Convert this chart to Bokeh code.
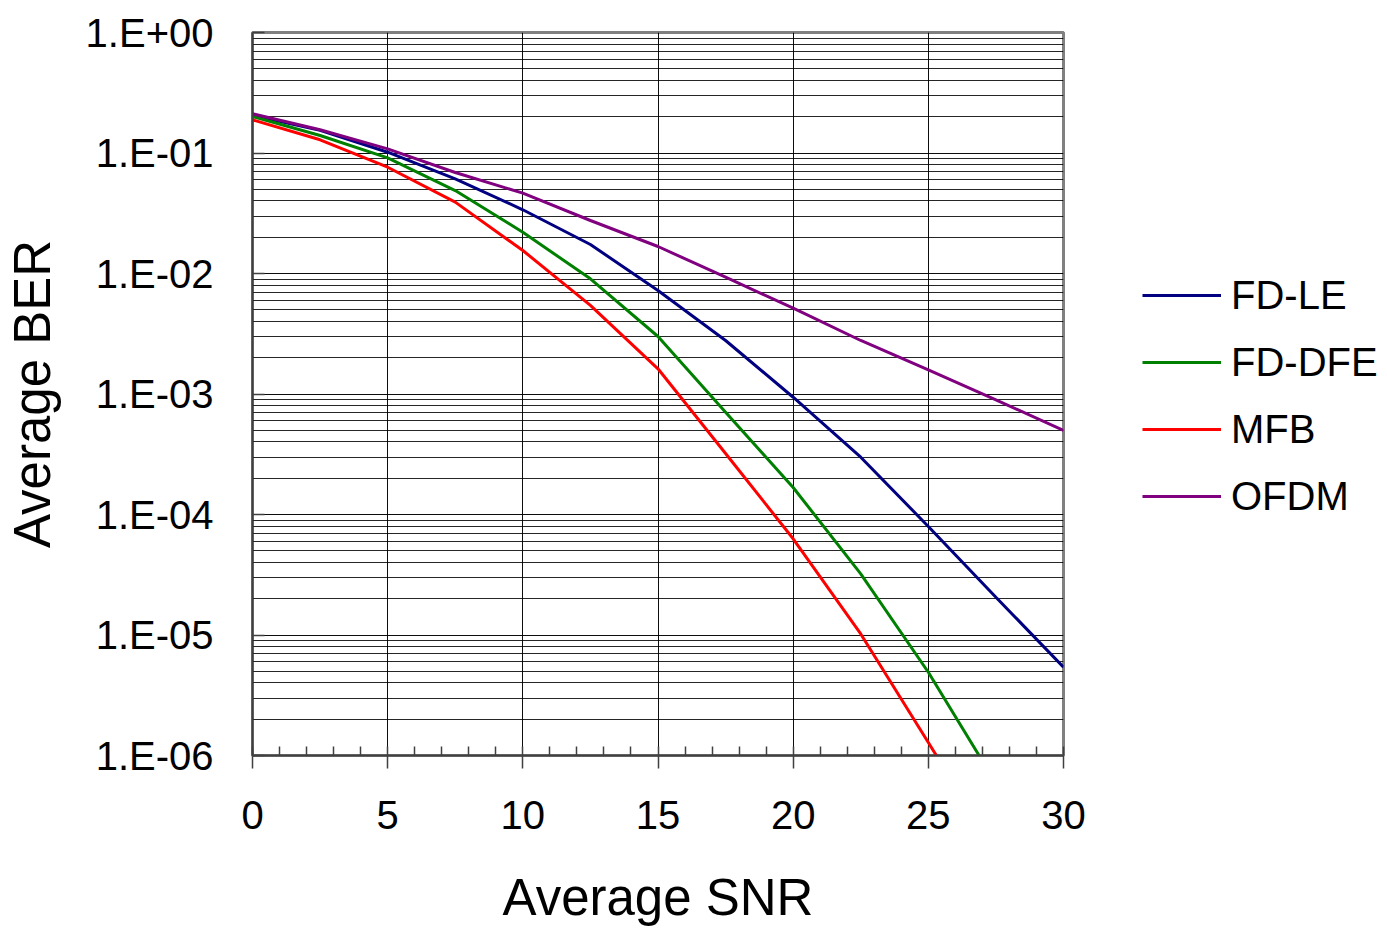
import math
from bokeh.plotting import figure
from bokeh.layouts import row
from bokeh.models import (Range1d, FixedTicker, CustomJSTickFormatter, Legend, LegendItem)
from bokeh.embed import file_html
from bokeh.resources import INLINE

nan = float("nan")

# ---- data ----
snr = [0, 2.5, 5, 7.5, 10, 12.5, 15, 17.5, 20, 22.5, 25, 27.5, 30]
fd_le = [0.205, 0.154, 0.1015, 0.0611, 0.0338, 0.0174, 0.00723, 0.00278,
         0.00094, 0.000299, 7.95e-5, 2.06e-5, 5.4e-6]
fd_dfe = [0.201, 0.1397, 0.0912, 0.0488, 0.0220, 0.00904, 0.00300, 0.000706,
          0.0001676, 3.22e-5, 4.91e-6, 5.9e-7, nan]
mfb = [0.1886, 0.1287, 0.0762, 0.0391, 0.01552, 0.00543, 0.001619, 0.000321,
       6.29e-5, 1.02e-5, 1.28e-6, 1.6e-7, nan]
ofdm = [0.2115, 0.1558, 0.1083, 0.0689, 0.0464, 0.02754, 0.01675, 0.00932,
        0.00515, 0.00278, 0.001588, 0.000895, 0.000498]

series_names = ["FD-LE", "FD-DFE", "MFB", "OFDM"]
series_values = [fd_le, fd_dfe, mfb, ofdm]
series_colors = ["#000080", "#008000", "#FF0000", "#800080"]

x_ticks = [0, 5, 10, 15, 20, 25, 30]
x_minor = list(range(0, 31))
y_decades = [-6, -5, -4, -3, -2, -1, 0]

FONT = "Liberation Sans"
RIGHT_GAP = 30

p = figure(frame_width=811, frame_height=723, output_backend="svg", toolbar_location=None,
           y_axis_type="log", x_range=Range1d(0, 30), y_range=Range1d(1e-6, 1),
           min_border_left=252, min_border_right=RIGHT_GAP, min_border_top=32,
           min_border_bottom=173)
p.background_fill_color = "white"
p.border_fill_color = "white"
p.outline_line_color = "#808080"
p.outline_line_width = 3

for name, vals, col in zip(series_names, series_values, series_colors):
    p.line(snr, vals, line_color=col, line_width=3)

# axes
p.xaxis.ticker = FixedTicker(ticks=x_ticks, minor_ticks=x_minor)
p.yaxis.ticker = FixedTicker(ticks=[10.0 ** k for k in y_decades],
                             minor_ticks=[m * 10.0 ** k for k in y_decades[:-1] for m in range(2, 10)])
p.yaxis.formatter = CustomJSTickFormatter(code="""
const e = Math.round(Math.log10(tick));
const s = e < 0 ? "-" : "+";
const a = Math.abs(e);
return "1.E" + s + (a < 10 ? "0" + a : "" + a);
""")

for ax in (p.xaxis[0], p.yaxis[0]):
    ax.axis_line_color = "#404040"
    ax.axis_line_width = 2
    ax.major_tick_line_color = "#404040"
    ax.major_tick_line_width = 1.5
    ax.minor_tick_line_color = "#404040"
    ax.minor_tick_line_width = 1.5
    ax.major_label_text_font = FONT
    ax.major_label_text_font_size = "40px"
    ax.major_label_text_color = "black"
    ax.axis_label_text_font = FONT
    ax.axis_label_text_font_size = "51px"
    ax.axis_label_text_font_style = "normal"
    ax.axis_label_text_color = "black"

p.xaxis.axis_label = "Average SNR"
p.yaxis.axis_label = "Average BER"

p.xaxis.major_tick_out = 13
p.xaxis.major_tick_in = 0
p.xaxis.minor_tick_in = 9
p.xaxis.minor_tick_out = 0
p.xaxis.major_label_standoff = 32
p.xaxis.axis_label_standoff = 37

p.yaxis.major_tick_in = 12
p.yaxis.major_tick_out = 0
p.yaxis.minor_tick_line_color = None
p.yaxis.major_label_standoff = 35
p.yaxis.axis_label_standoff = 22

# grids
p.xgrid.grid_line_color = "black"
p.xgrid.grid_line_width = 1
p.xgrid.grid_line_alpha = 0.95
p.ygrid.grid_line_color = "black"
p.ygrid.grid_line_width = 1
p.ygrid.grid_line_alpha = 0.95
p.ygrid.minor_grid_line_color = "black"
p.ygrid.minor_grid_line_width = 1
p.ygrid.minor_grid_line_alpha = 0.85

# ---- legend panel (separate figure to the right of the chart) ----
main_width = 252 + 811 + RIGHT_GAP
pl = figure(width=1387 - main_width, height=928, output_backend="svg", toolbar_location=None,
            x_range=Range1d(1000, 1001), y_range=Range1d(1000, 1001),
            x_axis_location=None, y_axis_location=None,
            min_border_left=0, min_border_right=0, min_border_top=0, min_border_bottom=0)
pl.outline_line_color = None
pl.grid.visible = False
pl.background_fill_color = "white"
pl.border_fill_color = "white"

# same series drawn outside this panel's visible range: only their legend swatches show
legend_renderers = [pl.line(snr, vals, line_color=col, line_width=3)
                    for vals, col in zip(series_values, series_colors)]
items = [LegendItem(label=n, renderers=[r]) for n, r in zip(series_names, legend_renderers)]
legend = Legend(items=items, location=(1142 - main_width, 236), orientation="vertical",
                margin=0, padding=0, spacing=21, glyph_width=79, glyph_height=46,
                label_height=46, label_standoff=10, border_line_color=None,
                background_fill_alpha=0, label_text_font=FONT,
                label_text_font_size="40px", label_text_color="black")
pl.add_layout(legend, "center")

layout = row(p, pl, spacing=0)
open("out.html", "w").write(file_html(layout, INLINE))
